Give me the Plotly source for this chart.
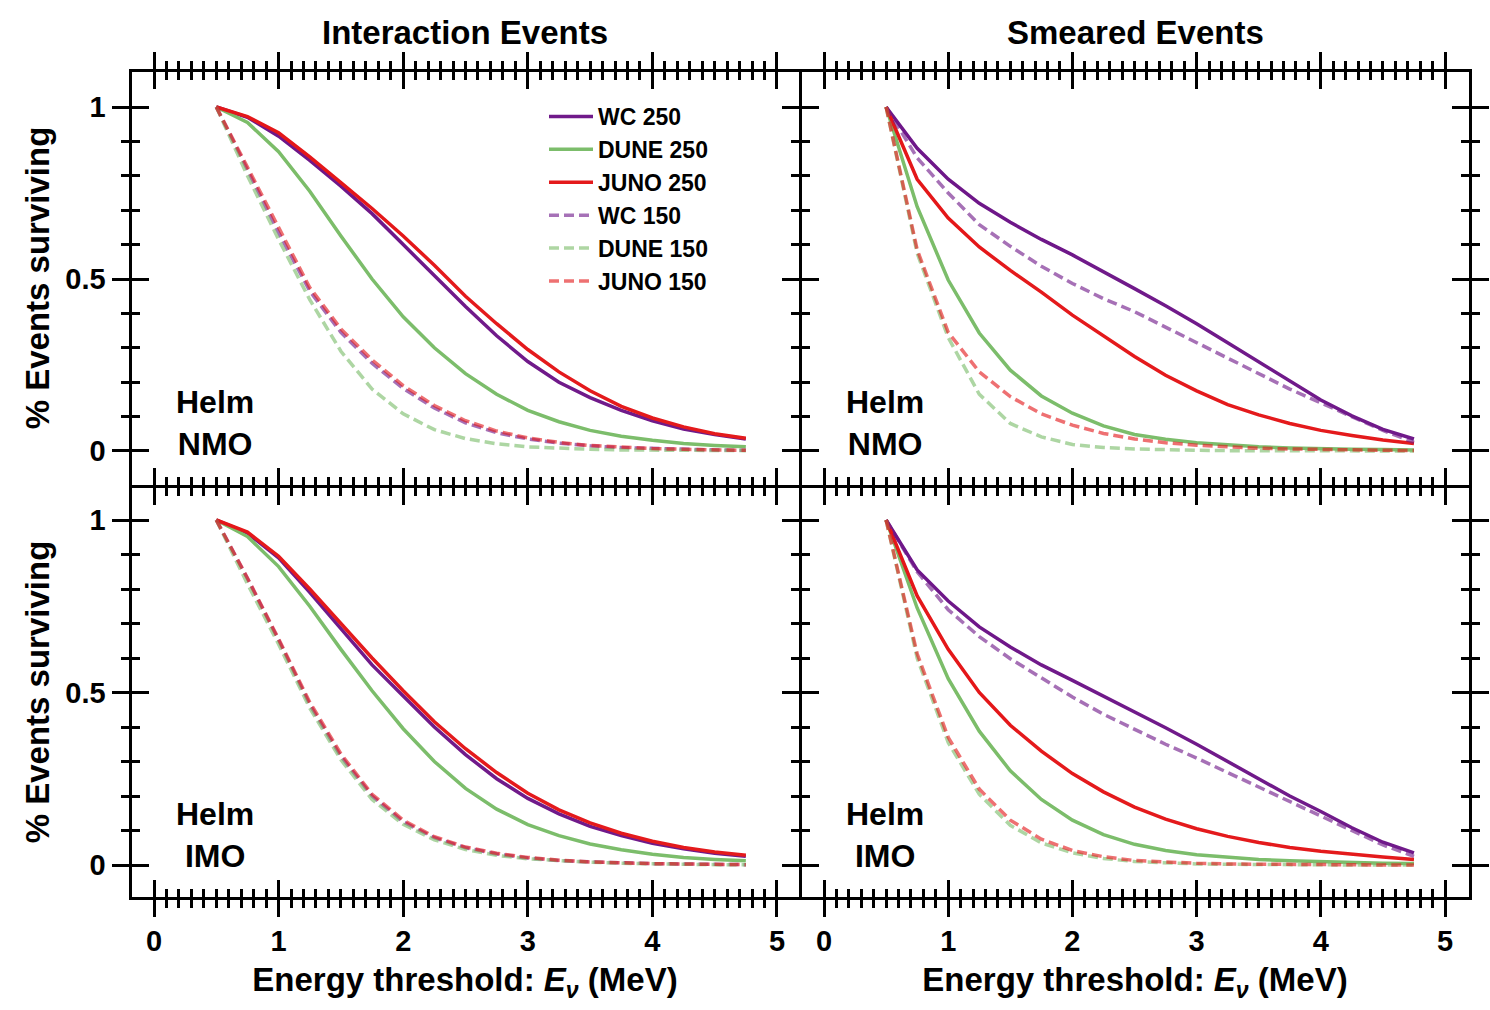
import plotly.graph_objects as go

# ---------------- data ----------------
thresholds = [0.5, 0.75, 1.0, 1.25, 1.5, 1.75, 2.0, 2.25, 2.5, 2.75,
              3.0, 3.25, 3.5, 3.75, 4.0, 4.25, 4.5, 4.75]

series_names = ["WC 250", "DUNE 250", "JUNO 250", "WC 150", "DUNE 150", "JUNO 150"]

# Interaction events, NMO (top-left)
wc250_int_nmo = [1.0, 0.97, 0.915, 0.845, 0.77, 0.69, 0.60, 0.51, 0.42, 0.335, 0.26, 0.2, 0.155, 0.118, 0.088, 0.064, 0.048, 0.035]
dune250_int_nmo = [1.0, 0.955, 0.87, 0.755, 0.625, 0.5, 0.39, 0.3, 0.225, 0.165, 0.118, 0.085, 0.06, 0.043, 0.031, 0.022, 0.016, 0.012]
juno250_int_nmo = [1.0, 0.972, 0.925, 0.855, 0.78, 0.705, 0.625, 0.54, 0.45, 0.37, 0.295, 0.23, 0.175, 0.13, 0.096, 0.07, 0.05, 0.037]
wc150_int_nmo = [1.0, 0.82, 0.635, 0.465, 0.345, 0.255, 0.182, 0.125, 0.082, 0.053, 0.035, 0.023, 0.015, 0.01, 0.007, 0.005, 0.003, 0.002]
dune150_int_nmo = [1.0, 0.8, 0.615, 0.44, 0.29, 0.18, 0.108, 0.062, 0.036, 0.021, 0.012, 0.008, 0.005, 0.003, 0.002, 0.001, 0.001, 0.001]
juno150_int_nmo = [1.0, 0.825, 0.645, 0.475, 0.355, 0.265, 0.19, 0.132, 0.088, 0.058, 0.038, 0.025, 0.016, 0.011, 0.007, 0.005, 0.003, 0.002]

# Smeared events, NMO (top-right)
wc250_sm_nmo = [1.0, 0.88, 0.79, 0.72, 0.665, 0.615, 0.57, 0.522, 0.472, 0.422, 0.37, 0.315, 0.26, 0.203, 0.148, 0.102, 0.063, 0.035]
dune250_sm_nmo = [1.0, 0.71, 0.497, 0.343, 0.235, 0.16, 0.11, 0.073, 0.048, 0.034, 0.024, 0.017, 0.012, 0.009, 0.006, 0.005, 0.004, 0.003]
juno250_sm_nmo = [1.0, 0.79, 0.677, 0.593, 0.525, 0.462, 0.395, 0.335, 0.275, 0.22, 0.175, 0.135, 0.105, 0.08, 0.06, 0.045, 0.032, 0.022]
wc150_sm_nmo = [1.0, 0.852, 0.75, 0.658, 0.595, 0.537, 0.487, 0.443, 0.405, 0.36, 0.315, 0.27, 0.225, 0.18, 0.14, 0.1, 0.06, 0.025]
dune150_sm_nmo = [1.0, 0.575, 0.33, 0.165, 0.08, 0.041, 0.019, 0.01, 0.006, 0.003, 0.002, 0.001, 0.001, 0.0, 0.0, 0.0, 0.0, 0.0]
juno150_sm_nmo = [1.0, 0.585, 0.345, 0.23, 0.158, 0.108, 0.075, 0.051, 0.035, 0.024, 0.017, 0.012, 0.008, 0.006, 0.004, 0.003, 0.002, 0.0015]

# Interaction events, IMO (bottom-left)
wc250_int_imo = [1.0, 0.962, 0.89, 0.79, 0.685, 0.58, 0.49, 0.4, 0.32, 0.25, 0.193, 0.148, 0.112, 0.085, 0.063, 0.047, 0.034, 0.025]
dune250_int_imo = [1.0, 0.952, 0.865, 0.75, 0.625, 0.505, 0.395, 0.3, 0.222, 0.162, 0.117, 0.085, 0.061, 0.044, 0.031, 0.022, 0.016, 0.012]
juno250_int_imo = [1.0, 0.965, 0.895, 0.8, 0.7, 0.6, 0.505, 0.415, 0.337, 0.268, 0.208, 0.16, 0.122, 0.092, 0.069, 0.051, 0.038, 0.028]
wc150_int_imo = [1.0, 0.83, 0.652, 0.465, 0.315, 0.2, 0.125, 0.079, 0.05, 0.032, 0.02, 0.013, 0.009, 0.006, 0.004, 0.003, 0.002, 0.001]
dune150_int_imo = [1.0, 0.815, 0.64, 0.455, 0.305, 0.19, 0.118, 0.073, 0.045, 0.028, 0.018, 0.012, 0.008, 0.005, 0.003, 0.002, 0.001, 0.001]
juno150_int_imo = [1.0, 0.832, 0.655, 0.472, 0.322, 0.205, 0.13, 0.082, 0.052, 0.034, 0.022, 0.014, 0.009, 0.006, 0.004, 0.003, 0.002, 0.001]

# Smeared events, IMO (bottom-right)
wc250_sm_imo = [1.0, 0.855, 0.765, 0.69, 0.632, 0.58, 0.535, 0.49, 0.445, 0.398, 0.35, 0.3, 0.25, 0.2, 0.155, 0.108, 0.066, 0.035]
dune250_sm_imo = [1.0, 0.745, 0.54, 0.388, 0.273, 0.19, 0.13, 0.088, 0.06, 0.042, 0.03, 0.022, 0.016, 0.012, 0.009, 0.007, 0.005, 0.004]
juno250_sm_imo = [1.0, 0.78, 0.625, 0.5, 0.405, 0.33, 0.265, 0.212, 0.168, 0.133, 0.105, 0.083, 0.065, 0.051, 0.04, 0.031, 0.023, 0.016]
wc150_sm_imo = [1.0, 0.85, 0.74, 0.662, 0.598, 0.543, 0.487, 0.437, 0.393, 0.35, 0.31, 0.268, 0.226, 0.183, 0.14, 0.098, 0.058, 0.025]
dune150_sm_imo = [1.0, 0.6, 0.355, 0.205, 0.115, 0.064, 0.035, 0.019, 0.01, 0.006, 0.003, 0.002, 0.001, 0.001, 0.0, 0.0, 0.0, 0.0]
juno150_sm_imo = [1.0, 0.612, 0.37, 0.22, 0.13, 0.075, 0.042, 0.024, 0.013, 0.008, 0.005, 0.003, 0.002, 0.001, 0.001, 0.001, 0.0, 0.0]

column_titles = ["Interaction Events", "Smeared Events"]
row_labels = ["Helm<br>NMO", "Helm<br>IMO"]
x_major_ticks = [0, 1, 2, 3, 4, 5]
x_minor_ticks = [i / 10 for i in range(1, 50) if i % 10]
y_major_ticks = [0, 0.5, 1]
y_minor_ticks = [0.1, 0.2, 0.3, 0.4, 0.6, 0.7, 0.8, 0.9]

# ---------------- styling ----------------
FONT = "Liberation Sans, Arial, Helvetica, sans-serif"
C_WC, C_DUNE, C_JUNO = "#701a8a", "#7cbd6b", "#e41a1c"
styles = [
    dict(color=C_WC, dash="solid", opacity=1.0),
    dict(color=C_DUNE, dash="solid", opacity=1.0),
    dict(color=C_JUNO, dash="solid", opacity=1.0),
    dict(color=C_WC, dash="10px,5px", opacity=0.62),
    dict(color=C_DUNE, dash="10px,5px", opacity=0.62),
    dict(color=C_JUNO, dash="10px,5px", opacity=0.62),
]

panels = [
    ("x", "y", [wc250_int_nmo, dune250_int_nmo, juno250_int_nmo, wc150_int_nmo, dune150_int_nmo, juno150_int_nmo]),
    ("x2", "y2", [wc250_sm_nmo, dune250_sm_nmo, juno250_sm_nmo, wc150_sm_nmo, dune150_sm_nmo, juno150_sm_nmo]),
    ("x3", "y3", [wc250_int_imo, dune250_int_imo, juno250_int_imo, wc150_int_imo, dune150_int_imo, juno150_int_imo]),
    ("x4", "y4", [wc250_sm_imo, dune250_sm_imo, juno250_sm_imo, wc150_sm_imo, dune150_sm_imo, juno150_sm_imo]),
]

fig = go.Figure()
for p, (xa, ya, series) in enumerate(panels):
    for name, vals, st in zip(series_names, series, styles):
        fig.add_trace(go.Scatter(
            x=thresholds, y=vals, mode="lines", name=name,
            xaxis=xa, yaxis=ya, legendgroup=name, showlegend=(p == 0),
            opacity=st["opacity"],
            line=dict(color=st["color"], width=3.5, dash=st["dash"]),
        ))
    fig.add_trace(go.Scatter(x=[], y=[], xaxis="x%d" % (p + 5), yaxis="y%d" % (p + 5),
                             showlegend=False, hoverinfo="skip"))

W, H = 1490, 1010
LW = 3
# domains chosen so that neighbouring frame lines (drawn outside the plot area) coincide
XL = [131.5 / W, 798.5 / W]
XR = [801.5 / W, 1468.5 / W]
YT = [1 - 484.5 / H, 1 - 71.5 / H]
YB = [1 - 896.5 / H, 1 - 487.5 / H]
XL_RANGE = [-0.1806, 5.1726]
XR_RANGE = [-0.1812, 5.189]
YT_RANGE = [-0.0974, 1.1032]
YB_RANGE = [-0.0913, 1.0942]

tickfont = dict(family=FONT, size=29, color="black", weight="bold")
titlefont = dict(family=FONT, size=33, color="black", weight="bold")


def axis_common(rng, major, minor, ticks):
    return dict(
        range=rng, showgrid=False, zeroline=False,
        showline=True, linewidth=LW, linecolor="black", mirror="ticks",
        ticks=ticks, ticklen=17, tickwidth=3, tickcolor="black",
        tickmode="array", tickvals=major,
        minor=dict(tickmode="array", tickvals=minor, ticks=ticks, ticklen=8,
                   tickwidth=3, tickcolor="black", showgrid=False),
        fixedrange=True,
    )


layout_axes = {}
geo = [
    (XL, YT, XL_RANGE, YT_RANGE, True, False),
    (XR, YT, XR_RANGE, YT_RANGE, False, False),
    (XL, YB, XL_RANGE, YB_RANGE, True, True),
    (XR, YB, XR_RANGE, YB_RANGE, False, True),
]
for i, (xd, yd, xr, yr, ylab, xlab) in enumerate(geo):
    n = i + 1
    xk = "xaxis" if n == 1 else "xaxis%d" % n
    yk = "yaxis" if n == 1 else "yaxis%d" % n
    xid = "x" if n == 1 else "x%d" % n
    yid = "y" if n == 1 else "y%d" % n
    ax = axis_common(xr, x_major_ticks, x_minor_ticks, "inside")
    ax.update(domain=xd, anchor=yid, showticklabels=False)
    layout_axes[xk] = ax
    ay = axis_common(yr, y_major_ticks, y_minor_ticks, "inside")
    ay.update(domain=yd, anchor=xid, showticklabels=False)
    layout_axes[yk] = ay
    m = n + 4
    ox = axis_common(xr, x_major_ticks, x_minor_ticks, "outside")
    ox.update(overlaying=xid, anchor="y%d" % m, side="bottom",
              showticklabels=xlab, tickfont=tickfont)
    if xlab:
        ox.update(title=dict(text="Energy threshold: <i>E<sub>ν</sub></i> (MeV)",
                             font=titlefont, standoff=12))
    layout_axes["xaxis%d" % m] = ox
    oy = axis_common(yr, y_major_ticks, y_minor_ticks, "outside")
    oy.update(overlaying=yid, anchor="x%d" % m, side="left",
              showticklabels=ylab, tickfont=tickfont)
    if ylab:
        oy.update(title=dict(text="% Events surviving", font=titlefont, standoff=6))
    layout_axes["yaxis%d" % m] = oy

annotations = []
for j, t in enumerate(column_titles):
    annotations.append(dict(text=t, xref="x domain" if j == 0 else "x2 domain", x=0.5,
                            yref="paper", y=1 - 32 / H, showarrow=False,
                            xanchor="center", yanchor="middle", font=titlefont))
for xa_ref, ya_ref, lab in [("x", "y", row_labels[0]), ("x2", "y2", row_labels[0]),
                            ("x3", "y3", row_labels[1]), ("x4", "y4", row_labels[1])]:
    annotations.append(dict(text=lab, xref=xa_ref + " domain", x=0.125,
                            yref=ya_ref + " domain", y=0.15, showarrow=False,
                            xanchor="center", yanchor="middle", align="center",
                            font=dict(family=FONT, size=32, color="black", weight="bold")))

fig.update_layout(
    width=W, height=H,
    margin=dict(l=0, r=0, t=0, b=0),
    paper_bgcolor="white", plot_bgcolor="rgba(0,0,0,0)",
    font=dict(family=FONT, color="black", weight="bold"),
    showlegend=True,
    legend=dict(x=544 / W, y=1 - 95 / H, xanchor="left", yanchor="top",
                bgcolor="rgba(0,0,0,0)", borderwidth=0,
                font=dict(family=FONT, size=23, color="black", weight="bold"),
                tracegroupgap=0, itemwidth=44),
    annotations=annotations,
    **layout_axes,
)

fig.write_html("out.html")
